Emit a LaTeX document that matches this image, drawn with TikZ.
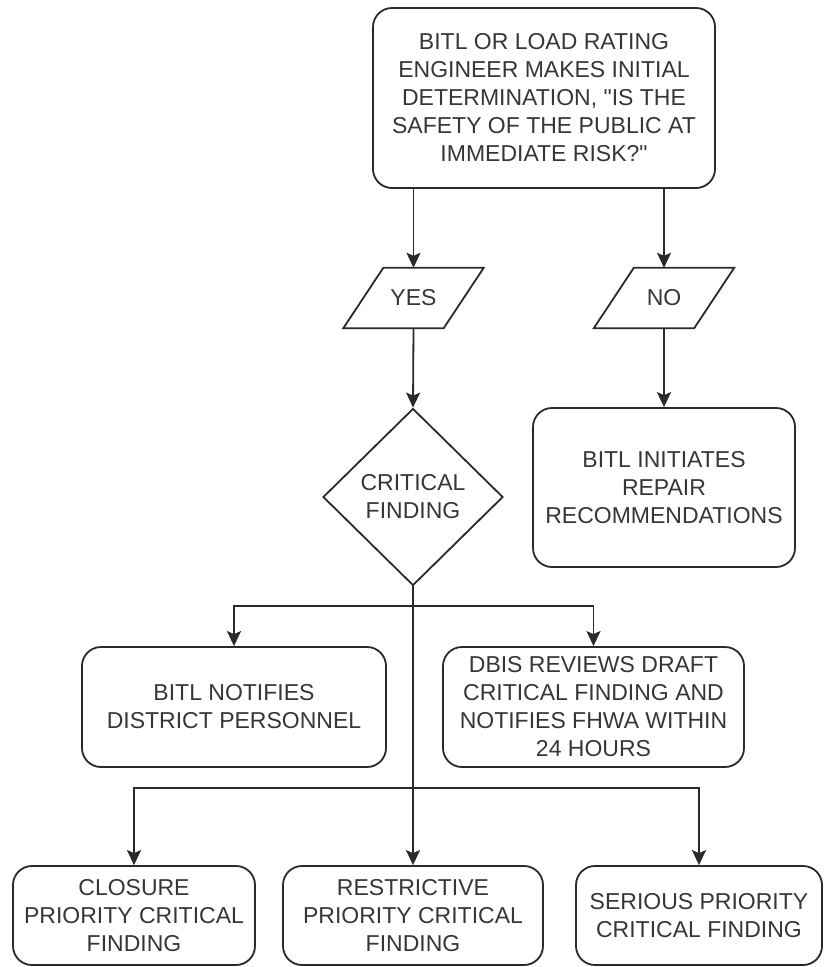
\documentclass[tikz,border=0pt]{standalone}
\usepackage{fontspec}
\setmainfont{Liberation Sans}[Ligatures=TeXOff]
\usetikzlibrary{arrows.meta,shapes.geometric}
\definecolor{linec}{HTML}{2A2A2A}
\definecolor{textc}{HTML}{363636}
\tikzset{
  every node/.style={font=\fontsize{23}{28}\selectfont, text=textc},
  box/.style={draw=linec, line width=1.8pt, rounded corners=19pt, align=center, inner sep=0pt},
  io/.style={draw=none, minimum width=100pt, minimum height=60pt, inner sep=0pt},
  para/.style={draw=linec, line width=1.8pt, line join=miter},
  dec/.style={draw=linec, line width=1.8pt, shape=diamond, aspect=1, inner sep=0pt, minimum width=180pt, minimum height=177pt, align=center},
  arr/.style={draw=linec, line width=1.8pt, -{Stealth[length=15pt,width=14pt,inset=3pt]}},
  ln/.style={draw=linec, line width=1.8pt}
}
\begin{document}
\begin{tikzpicture}[x=1pt,y=-1pt]
\useasboundingbox (0,0) rectangle (823,967);
% nodes
\node[box, minimum width=342pt, minimum height=180pt] (q) at (544,98)
  {BITL OR LOAD RATING\\ENGINEER MAKES INITIAL\\DETERMINATION, "IS THE\\SAFETY OF THE PUBLIC AT\\IMMEDIATE RISK?"};
\node[io] (yes) at (413.5,298) {YES};
\node[io] (no) at (664,298) {NO};
\draw[para] ([xshift=-20pt]yes.south west) -- ([xshift=-20pt]yes.south east) -- ([xshift=20pt]yes.north east) -- ([xshift=20pt]yes.north west) -- cycle;
\draw[para] ([xshift=-20pt]no.south west) -- ([xshift=-20pt]no.south east) -- ([xshift=20pt]no.north east) -- ([xshift=20pt]no.north west) -- cycle;
\node[dec] (d) at (413,497) {CRITICAL\\FINDING};
\node[box, minimum width=262pt, minimum height=159pt] (rep) at (664,487.5)
  {BITL INITIATES\\REPAIR\\RECOMMENDATIONS};
\node[box, minimum width=304pt, minimum height=120pt] (n1) at (234,707)
  {BITL NOTIFIES\\DISTRICT PERSONNEL};
\node[box, minimum width=301pt, minimum height=120pt] (n2) at (593.5,707)
  {DBIS REVIEWS DRAFT\\CRITICAL FINDING AND\\NOTIFIES FHWA WITHIN\\24 HOURS};
\node[box, minimum width=242pt, minimum height=99pt] (c1) at (134,915.5)
  {CLOSURE\\PRIORITY CRITICAL\\FINDING};
\node[box, minimum width=260pt, minimum height=99pt] (c2) at (413,915.5)
  {RESTRICTIVE\\PRIORITY CRITICAL\\FINDING};
\node[box, minimum width=246pt, minimum height=99pt] (c3) at (699,915.5)
  {SERIOUS PRIORITY\\CRITICAL FINDING};
\coordinate (j1) at (413,606);
\coordinate (j2) at (413,788);
% connectors
\draw[arr] (q.south -| yes.north) -- (yes.north);
\draw[arr] (q.south -| no.north) -- (no.north);
\draw[arr] (yes.south) -- (d.north);
\draw[arr] (no.south) -- (rep.north);
\draw[arr] (d.south) -- (c2.north);
\draw[arr] (j1) -| (n1.north);
\draw[arr] (j1) -| (n2.north);
\draw[arr] (j2) -| (c1.north);
\draw[arr] (j2) -| (c3.north);
\end{tikzpicture}
\end{document}
